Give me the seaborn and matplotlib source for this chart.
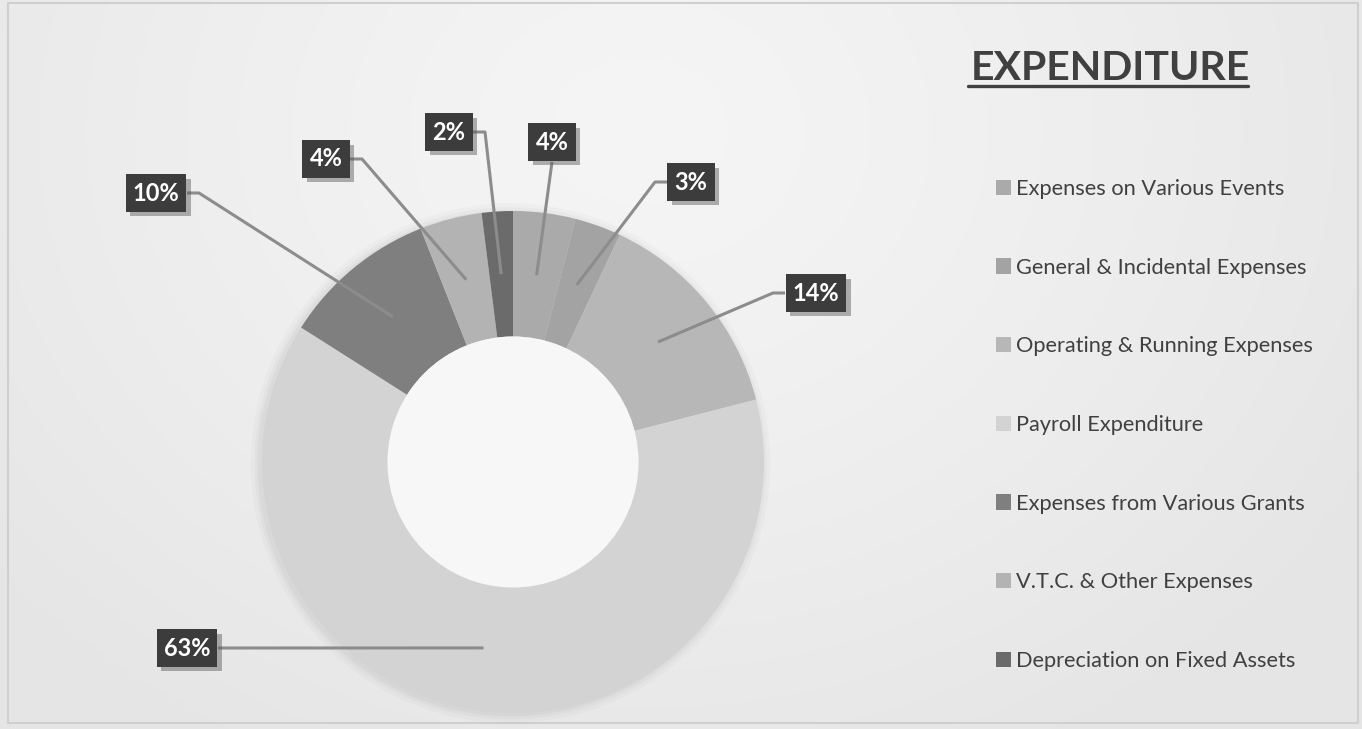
import matplotlib.pyplot as plt
import matplotlib.patheffects as pe
import numpy as np
import seaborn as sns
from matplotlib.patches import Circle

CATEGORIES = [
    "Expenses on Various Events",
    "General & Incidental Expenses",
    "Operating & Running Expenses",
    "Payroll Expenditure",
    "Expenses from Various Grants",
    "V.T.C. & Other Expenses",
    "Depreciation on Fixed Assets",
]
SHARES = [4, 3, 14, 63, 10, 4, 2]
SLICE_COLORS = ["#aaaaaa", "#a3a3a3", "#b7b7b7", "#d3d3d3", "#7f7f7f", "#b3b3b3", "#6b6b6b"]
TITLE = "EXPENDITURE"

# layout (pixels in a 1362x729 canvas)
WIDTH_PX, HEIGHT_PX = 1362, 729
CENTER_PX = (513, 462)
RADIUS_PX = 251
LABEL_POS_PX = [(552, 142), (691, 182), (816, 293), (187, 648), (156, 193), (326, 159), (449, 132)]
LEADER_SIDE = ["bottom", "left", "left", "right", "right", "right", "right"]
TEXT_COLOR = "#404040"
BOX_COLOR = "#3c3c3c"
LEADER_COLOR = "#8c8c8c"


def px_to_data(px: float, py: float) -> tuple[float, float]:
    return (px - CENTER_PX[0]) / RADIUS_PX, (CENTER_PX[1] - py) / RADIUS_PX


def draw_background(ax) -> None:
    xs = np.linspace(0, WIDTH_PX, 341)
    ys = np.linspace(0, HEIGHT_PX, 183)
    gx, gy = np.meshgrid(xs, ys)
    dist = np.hypot(gx - 640, (gy - 130) * 1.2)
    shade = 0.96 - 0.06 * (np.clip(dist / 850, 0, 1) ** 1.3)
    rgb = np.dstack([shade, shade, shade])
    x0, y1 = px_to_data(0, 0)
    x1, y0 = px_to_data(WIDTH_PX, HEIGHT_PX)
    ax.imshow(rgb, extent=(x0, x1, y0, y1), origin="upper", aspect="auto", zorder=0,
              interpolation="bilinear")
    fx0, fy0 = px_to_data(8, 723)
    fx1, fy1 = px_to_data(1358, 3)
    ax.plot([fx0, fx1, fx1, fx0, fx0], [fy0, fy0, fy1, fy1, fy0], color="#cfcfcf", lw=1.5, zorder=1)


def main() -> None:
    sns.set_theme(style="white")
    plt.rcParams["font.family"] = ["Lato", "DejaVu Sans"]

    fig = plt.figure(figsize=(WIDTH_PX / 100, HEIGHT_PX / 100), dpi=100)
    ax = fig.add_axes((0, 0, 1, 1))
    draw_background(ax)

    # soft shadow around donut
    for k, a in zip([1.035, 1.02, 1.008], [0.04, 0.05, 0.07]):
        ax.add_patch(Circle((-0.01, -0.005), k, color="#808080", alpha=a, lw=0, zorder=2))

    wedges, _ = ax.pie(
        SHARES,
        colors=SLICE_COLORS,
        startangle=90,
        counterclock=False,
        radius=1.0,
        center=(0, 0),
        wedgeprops={"width": 0.5, "linewidth": 0},
    )
    for w in wedges:
        w.set_zorder(3)
    ax.add_patch(Circle((0, 0), 0.5, color="#f7f7f7", lw=0, zorder=3))

    total = float(sum(SHARES))
    cumulative = np.cumsum([0] + SHARES[:-1])
    for share, start, (lx, ly), side in zip(SHARES, cumulative, LABEL_POS_PX, LEADER_SIDE):
        theta = np.deg2rad(90 - 360 * (start + share / 2) / total)
        anchor = (0.75 * np.cos(theta), 0.75 * np.sin(theta))
        label = f"{share}%"
        half_w = 31 if len(label) > 2 else 24
        if side == "bottom":
            path_px = [(lx, ly + 20)]
        elif side == "left":
            path_px = [(lx - half_w, ly), (lx - half_w - 12, ly)]
        else:
            path_px = [(lx + half_w, ly), (lx + half_w + 12, ly)]
        pts = [px_to_data(*p) for p in path_px] + [anchor]
        ax.plot([p[0] for p in pts], [p[1] for p in pts], color=LEADER_COLOR, lw=2.2, zorder=4,
                solid_capstyle="butt")

        tx, ty = px_to_data(lx, ly)
        txt = ax.text(tx, ty, label, ha="center", va="center", fontsize=17, fontweight="bold",
                      color="white", zorder=6,
                      bbox={"boxstyle": "square,pad=0.3", "facecolor": BOX_COLOR, "edgecolor": "none"})
        txt.get_bbox_patch().set_path_effects(
            [pe.SimplePatchShadow(offset=(3, -3), shadow_rgbFace="#555555", alpha=0.45), pe.Normal()]
        )

    tx, ty = px_to_data(971, 80)
    ax.text(tx, ty, TITLE, ha="left", va="baseline", fontsize=29.5, fontweight="bold", color=TEXT_COLOR, zorder=6)
    ux0, uy = px_to_data(968, 86)
    ux1, _ = px_to_data(1248, 86)
    ax.plot([ux0, ux1], [uy, uy], color=TEXT_COLOR, lw=2.4, zorder=6)

    ax.legend(
        wedges,
        CATEGORIES,
        loc="upper left",
        bbox_to_anchor=(996 / WIDTH_PX, 1 - 179 / HEIGHT_PX),
        bbox_transform=fig.transFigure,
        frameon=False,
        fontsize=15.7,
        labelcolor=TEXT_COLOR,
        labelspacing=2.69,
        handlelength=0.69,
        handleheight=0.69,
        handletextpad=0.25,
        borderpad=0,
        borderaxespad=0,
    )

    x0, _ = px_to_data(0, 0)
    x1, _ = px_to_data(WIDTH_PX, 0)
    _, y0 = px_to_data(0, HEIGHT_PX)
    _, y1 = px_to_data(0, 0)
    ax.set_xlim(x0, x1)
    ax.set_ylim(y0, y1)
    ax.set_aspect("auto")
    ax.axis("off")
    fig.savefig("out.png", dpi=100)


if __name__ == "__main__":
    main()
